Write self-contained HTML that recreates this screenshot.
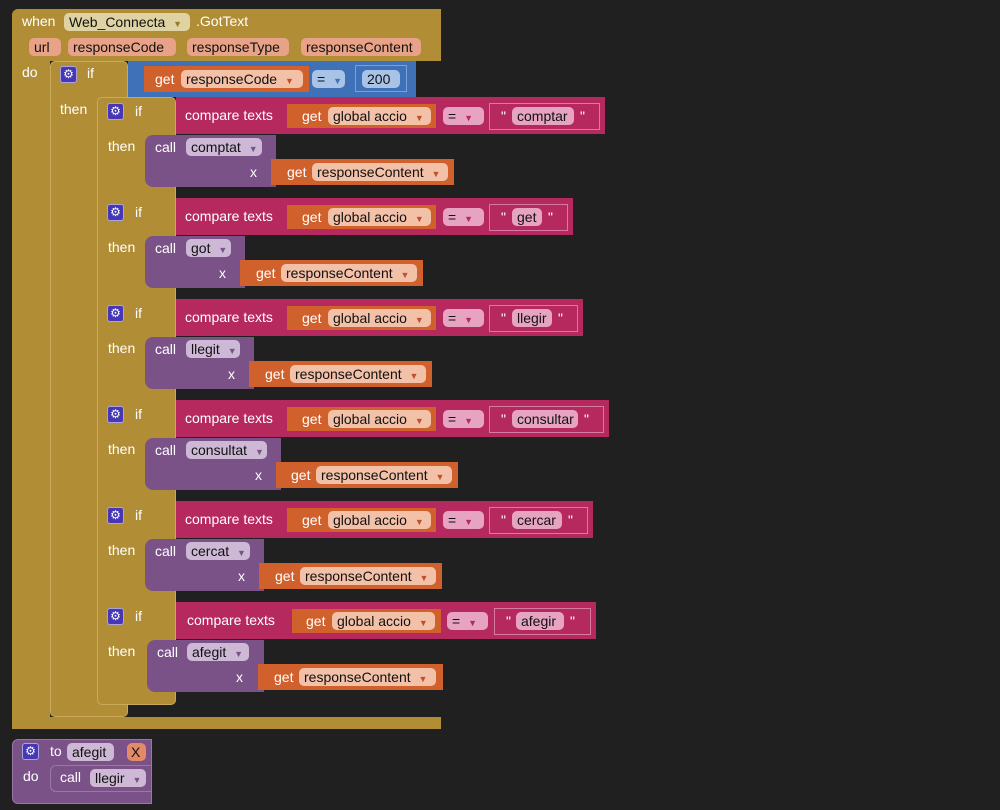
<!DOCTYPE html><html><head><style>
body{margin:0;width:1000px;height:810px;background:#202020;overflow:hidden;font-family:"Liberation Sans",sans-serif;font-size:14px;color:#fff;position:relative}
div{position:absolute;box-sizing:border-box}
.t{white-space:nowrap;line-height:18px}
.g{background:#b18e35}
.f{height:18px;border-radius:5px;line-height:18px;padding-left:5px;color:#111;white-space:nowrap}
.pk{background:#b5295f}
.or{background:#d0602c}
.pu{background:#7b5288}
.fo{background:#f3c0a8}
.fp{background:#cdb8d6}
.fe{background:#e6a4c2}
.gear{width:17px;height:17px;background:#4637b5;border-radius:3px;border:1px solid #aaa3e0;color:#fff;font-size:12px;line-height:15px;text-align:center}
.ar{font-size:9px;color:#c0502a;margin-left:4px}
</style></head><body>
<!-- event block -->
<div class="g" style="left:12px;top:9px;width:429px;height:52px;border-radius:6px 0 0 0"></div>
<div class="g" style="left:12px;top:60px;width:38px;height:669px;border-radius:0 0 0 6px"></div>
<div class="g" style="left:12px;top:717px;width:429px;height:12px"></div>
<div class="t" style="left:22px;top:12px">when</div>
<div class="f" style="left:64px;top:13px;width:126px;background:#e0d3a3">Web_Connecta <span class="ar" style="color:#9a7a2a">▼</span></div>
<div class="t" style="left:196px;top:12px">.GotText</div>
<div class="f" style="left:29px;top:38px;width:32px;background:#e8a287">url</div>
<div class="f" style="left:68px;top:38px;width:108px;background:#e8a287">responseCode</div>
<div class="f" style="left:187px;top:38px;width:102px;background:#e8a287">responseType</div>
<div class="f" style="left:301px;top:38px;width:120px;background:#e8a287">responseContent</div>
<div class="t" style="left:22px;top:63px">do</div>
<!-- outer if -->
<div class="g" style="left:50px;top:61px;width:78px;height:656px;border:1px solid #c9aa5a;border-radius:5px"></div>
<div class="gear" style="left:60px;top:66px">⚙</div>
<div class="t" style="left:87px;top:64px">if</div>
<div class="t" style="left:60px;top:100px">then</div>
<div style="left:128px;top:61px;width:288px;height:36px;background:#3e71b7"></div>
<div class="or" style="left:144px;top:66px;width:165px;height:26px"></div>
<div class="t" style="left:155px;top:70px">get</div>
<div class="f fo" style="left:181px;top:70px;width:122px">responseCode <span class="ar">▼</span></div>
<div class="f" style="left:312px;top:70px;width:33px;background:#a9c3e6">= <span class="ar" style="color:#3e71b7">▼</span></div>
<div style="left:355px;top:65px;width:52px;height:27px;border:1px solid #7da0d0"></div>
<div class="f" style="left:362px;top:70px;width:38px;background:#a9c3e6">200</div>
<!-- inner ifs column -->
<div class="g" style="left:97px;top:97px;width:79px;height:608px;border:1px solid #c9aa5a;border-radius:5px"></div>

<!-- row1 -->
<div class="gear" style="left:107px;top:103px">⚙</div><div class="t" style="left:135px;top:102px">if</div><div class="t" style="left:108px;top:137px">then</div>
<div class="pk" style="left:176px;top:97px;width:429px;height:37px"></div>
<div class="t" style="left:185px;top:106px">compare texts</div>
<div class="or" style="left:287px;top:104px;width:149px;height:24px"></div><div class="t" style="left:302px;top:107px">get</div>
<div class="f fo" style="left:328px;top:107px;width:103px">global accio <span class="ar">▼</span></div>
<div class="f fe" style="left:443px;top:107px;width:41px">= <span class="ar" style="color:#b5295f">▼</span></div>
<div style="left:489px;top:103px;width:111px;height:27px;border:1px solid #d47aa3"></div>
<div class="t" style="left:501px;top:107px">"</div><div class="f fe" style="left:512px;top:107px;width:62px">comptar</div><div class="t" style="left:580px;top:107px">"</div>
<div class="pu" style="left:145px;top:135px;width:131px;height:52px;border-radius:8px 0 0 8px"></div>
<div class="t" style="left:155px;top:138px">call</div><div class="f fp" style="left:186px;top:138px;width:76px">comptat <span class="ar" style="color:#7b5288">▼</span></div>
<div class="t" style="left:250px;top:163px">x</div>
<div class="or" style="left:271px;top:159px;width:183px;height:26px"></div><div class="t" style="left:287px;top:163px">get</div>
<div class="f fo" style="left:312px;top:163px;width:136px">responseContent <span class="ar">▼</span></div>

<!-- row2 -->
<div class="gear" style="left:107px;top:204px">⚙</div><div class="t" style="left:135px;top:203px">if</div><div class="t" style="left:108px;top:238px">then</div>
<div class="pk" style="left:176px;top:198px;width:397px;height:37px"></div>
<div class="t" style="left:185px;top:207px">compare texts</div>
<div class="or" style="left:287px;top:205px;width:149px;height:24px"></div><div class="t" style="left:302px;top:208px">get</div>
<div class="f fo" style="left:328px;top:208px;width:103px">global accio <span class="ar">▼</span></div>
<div class="f fe" style="left:443px;top:208px;width:41px">= <span class="ar" style="color:#b5295f">▼</span></div>
<div style="left:489px;top:204px;width:79px;height:27px;border:1px solid #d47aa3"></div>
<div class="t" style="left:501px;top:208px">"</div><div class="f fe" style="left:512px;top:208px;width:30px">get</div><div class="t" style="left:548px;top:208px">"</div>
<div class="pu" style="left:145px;top:236px;width:100px;height:52px;border-radius:8px 0 0 8px"></div>
<div class="t" style="left:155px;top:239px">call</div><div class="f fp" style="left:186px;top:239px;width:45px">got <span class="ar" style="color:#7b5288">▼</span></div>
<div class="t" style="left:219px;top:264px">x</div>
<div class="or" style="left:240px;top:260px;width:183px;height:26px"></div><div class="t" style="left:256px;top:264px">get</div>
<div class="f fo" style="left:281px;top:264px;width:136px">responseContent <span class="ar">▼</span></div>

<!-- row3 -->
<div class="gear" style="left:107px;top:305px">⚙</div><div class="t" style="left:135px;top:304px">if</div><div class="t" style="left:108px;top:339px">then</div>
<div class="pk" style="left:176px;top:299px;width:407px;height:37px"></div>
<div class="t" style="left:185px;top:308px">compare texts</div>
<div class="or" style="left:287px;top:306px;width:149px;height:24px"></div><div class="t" style="left:302px;top:309px">get</div>
<div class="f fo" style="left:328px;top:309px;width:103px">global accio <span class="ar">▼</span></div>
<div class="f fe" style="left:443px;top:309px;width:41px">= <span class="ar" style="color:#b5295f">▼</span></div>
<div style="left:489px;top:305px;width:89px;height:27px;border:1px solid #d47aa3"></div>
<div class="t" style="left:501px;top:309px">"</div><div class="f fe" style="left:512px;top:309px;width:40px">llegir</div><div class="t" style="left:558px;top:309px">"</div>
<div class="pu" style="left:145px;top:337px;width:109px;height:52px;border-radius:8px 0 0 8px"></div>
<div class="t" style="left:155px;top:340px">call</div><div class="f fp" style="left:186px;top:340px;width:54px">llegit <span class="ar" style="color:#7b5288">▼</span></div>
<div class="t" style="left:228px;top:365px">x</div>
<div class="or" style="left:249px;top:361px;width:183px;height:26px"></div><div class="t" style="left:265px;top:365px">get</div>
<div class="f fo" style="left:290px;top:365px;width:136px">responseContent <span class="ar">▼</span></div>

<!-- row4 -->
<div class="gear" style="left:107px;top:406px">⚙</div><div class="t" style="left:135px;top:405px">if</div><div class="t" style="left:108px;top:440px">then</div>
<div class="pk" style="left:176px;top:400px;width:433px;height:37px"></div>
<div class="t" style="left:185px;top:409px">compare texts</div>
<div class="or" style="left:287px;top:407px;width:149px;height:24px"></div><div class="t" style="left:302px;top:410px">get</div>
<div class="f fo" style="left:328px;top:410px;width:103px">global accio <span class="ar">▼</span></div>
<div class="f fe" style="left:443px;top:410px;width:41px">= <span class="ar" style="color:#b5295f">▼</span></div>
<div style="left:489px;top:406px;width:115px;height:27px;border:1px solid #d47aa3"></div>
<div class="t" style="left:501px;top:410px">"</div><div class="f fe" style="left:512px;top:410px;width:66px">consultar</div><div class="t" style="left:584px;top:410px">"</div>
<div class="pu" style="left:145px;top:438px;width:136px;height:52px;border-radius:8px 0 0 8px"></div>
<div class="t" style="left:155px;top:441px">call</div><div class="f fp" style="left:186px;top:441px;width:81px">consultat <span class="ar" style="color:#7b5288">▼</span></div>
<div class="t" style="left:255px;top:466px">x</div>
<div class="or" style="left:276px;top:462px;width:182px;height:26px"></div><div class="t" style="left:291px;top:466px">get</div>
<div class="f fo" style="left:316px;top:466px;width:136px">responseContent <span class="ar">▼</span></div>

<!-- row5 -->
<div class="gear" style="left:107px;top:507px">⚙</div><div class="t" style="left:135px;top:506px">if</div><div class="t" style="left:108px;top:541px">then</div>
<div class="pk" style="left:176px;top:501px;width:417px;height:37px"></div>
<div class="t" style="left:185px;top:510px">compare texts</div>
<div class="or" style="left:287px;top:508px;width:149px;height:24px"></div><div class="t" style="left:302px;top:511px">get</div>
<div class="f fo" style="left:328px;top:511px;width:103px">global accio <span class="ar">▼</span></div>
<div class="f fe" style="left:443px;top:511px;width:41px">= <span class="ar" style="color:#b5295f">▼</span></div>
<div style="left:489px;top:507px;width:99px;height:27px;border:1px solid #d47aa3"></div>
<div class="t" style="left:501px;top:511px">"</div><div class="f fe" style="left:512px;top:511px;width:50px">cercar</div><div class="t" style="left:568px;top:511px">"</div>
<div class="pu" style="left:145px;top:539px;width:119px;height:52px;border-radius:8px 0 0 8px"></div>
<div class="t" style="left:155px;top:542px">call</div><div class="f fp" style="left:186px;top:542px;width:64px">cercat <span class="ar" style="color:#7b5288">▼</span></div>
<div class="t" style="left:238px;top:567px">x</div>
<div class="or" style="left:259px;top:563px;width:183px;height:26px"></div><div class="t" style="left:275px;top:567px">get</div>
<div class="f fo" style="left:300px;top:567px;width:136px">responseContent <span class="ar">▼</span></div>

<!-- row6 -->
<div class="gear" style="left:107px;top:608px">⚙</div><div class="t" style="left:135px;top:607px">if</div><div class="t" style="left:108px;top:642px">then</div>
<div class="pk" style="left:176px;top:602px;width:420px;height:37px"></div>
<div class="t" style="left:187px;top:611px">compare texts</div>
<div class="or" style="left:292px;top:609px;width:149px;height:24px"></div><div class="t" style="left:306px;top:612px">get</div>
<div class="f fo" style="left:332px;top:612px;width:103px">global accio <span class="ar">▼</span></div>
<div class="f fe" style="left:447px;top:612px;width:41px">= <span class="ar" style="color:#b5295f">▼</span></div>
<div style="left:494px;top:608px;width:97px;height:27px;border:1px solid #d47aa3"></div>
<div class="t" style="left:506px;top:612px">"</div><div class="f fe" style="left:516px;top:612px;width:48px">afegir</div><div class="t" style="left:570px;top:612px">"</div>
<div class="pu" style="left:147px;top:640px;width:117px;height:52px;border-radius:8px 0 0 8px"></div>
<div class="t" style="left:157px;top:643px">call</div><div class="f fp" style="left:187px;top:643px;width:62px">afegit <span class="ar" style="color:#7b5288">▼</span></div>
<div class="t" style="left:236px;top:668px">x</div>
<div class="or" style="left:258px;top:664px;width:185px;height:26px"></div><div class="t" style="left:274px;top:668px">get</div>
<div class="f fo" style="left:299px;top:668px;width:137px">responseContent <span class="ar">▼</span></div>

<!-- procedure -->
<div class="pu" style="left:12px;top:739px;width:140px;height:65px;border-radius:6px 0 0 6px;border:1px solid #9a78a5"></div>
<div class="gear" style="left:22px;top:743px">⚙</div>
<div class="t" style="left:50px;top:742px">to</div>
<div class="f fp" style="left:67px;top:743px;width:47px">afegit</div>
<div class="f" style="left:127px;top:743px;width:19px;background:#e48a66;padding-left:4px">X</div>
<div class="t" style="left:23px;top:767px">do</div>
<div class="pu" style="left:50px;top:765px;width:102px;height:27px;border-radius:6px 0 0 6px;border:1px solid #9a78a5"></div>
<div class="t" style="left:60px;top:768px">call</div>
<div class="f fp" style="left:90px;top:769px;width:56px">llegir <span class="ar" style="color:#7b5288">▼</span></div>
</body></html>
